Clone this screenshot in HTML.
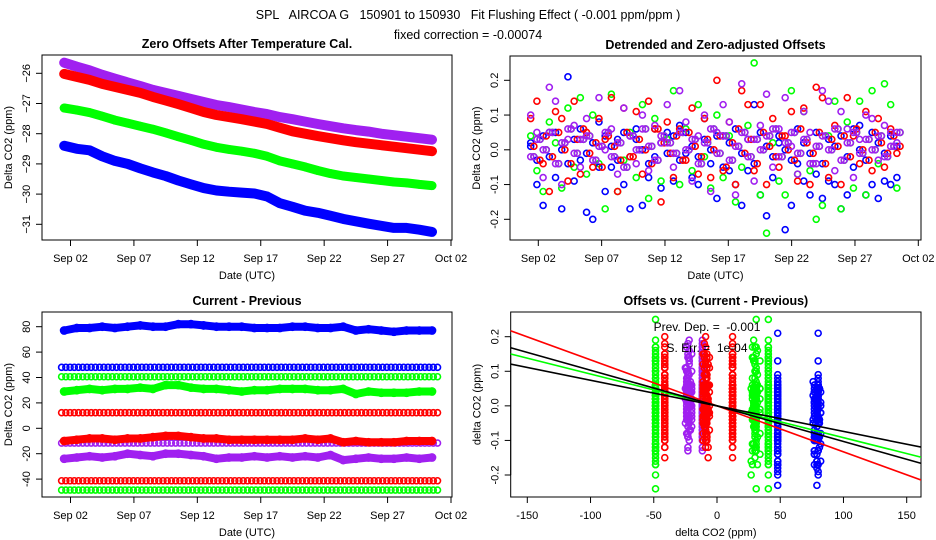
<!DOCTYPE html>
<html><head><meta charset="utf-8"><style>
html,body{margin:0;padding:0;background:#fff;}
svg{display:block;font-family:"Liberation Sans",Arial,sans-serif;}
text{white-space:pre;}
</style></head><body>
<svg id="chart" width="936" height="540" viewBox="0 0 936 540" xmlns="http://www.w3.org/2000/svg">
<rect x="0" y="0" width="936" height="540" fill="#fff"/>
<text x="468" y="19" font-size="12.5" text-anchor="middle" xml:space="preserve">SPL   AIRCOA G   150901 to 150930   Fit Flushing Effect ( -0.001 ppm/ppm )</text>
<text x="468" y="39" font-size="12.5" text-anchor="middle">fixed correction = -0.00074</text>
<g id="p1"></g>
<g id="p2"></g>
<g id="p3"></g>
<g id="p4"></g>
</svg>
<script>
// ---- data ----
const dateTicks = ["Sep 02","Sep 07","Sep 12","Sep 17","Sep 22","Sep 27","Oct 02"];
const dateTickDays = [2,7,12,17,22,27,32];
const days = [1.5,2.5,3.5,4.5,5.5,6.5,7.5,8.5,9.5,10.5,11.5,12.5,13.5,14.5,15.5,16.5,17.5,18.5,19.5,20.5,21.5,22.5,23.5,24.5,25.5,26.5,27.5,28.5,29.5,30.5];
const zeroBlue = [-28.40,-28.50,-28.55,-28.75,-28.90,-29.00,-29.15,-29.28,-29.40,-29.55,-29.68,-29.80,-29.88,-29.92,-29.95,-29.98,-30.08,-30.30,-30.42,-30.55,-30.62,-30.72,-30.82,-30.90,-30.98,-31.05,-31.12,-31.12,-31.18,-31.25];
const zeroGreen = [-27.15,-27.22,-27.30,-27.42,-27.55,-27.65,-27.75,-27.85,-27.97,-28.10,-28.22,-28.35,-28.45,-28.52,-28.58,-28.65,-28.75,-28.90,-29.00,-29.10,-29.22,-29.32,-29.40,-29.45,-29.50,-29.55,-29.60,-29.63,-29.68,-29.72];
const zeroRed = [-26.02,-26.12,-26.22,-26.35,-26.45,-26.55,-26.65,-26.78,-26.90,-27.02,-27.15,-27.28,-27.38,-27.45,-27.52,-27.60,-27.68,-27.80,-27.92,-28.00,-28.08,-28.15,-28.22,-28.28,-28.33,-28.38,-28.43,-28.48,-28.53,-28.58];
const zeroPurple = [-25.65,-25.78,-25.90,-26.05,-26.18,-26.30,-26.42,-26.55,-26.65,-26.75,-26.85,-26.95,-27.05,-27.12,-27.20,-27.28,-27.35,-27.45,-27.52,-27.60,-27.68,-27.75,-27.82,-27.88,-27.93,-28.00,-28.05,-28.10,-28.15,-28.20];
const offBlue = [0.02,-0.10,-0.16,0.05,-0.08,-0.17,0.21,-0.09,-0.03,-0.18,-0.20,0.08,-0.12,-0.05,0.03,-0.10,-0.17,0.06,-0.16,-0.08,-0.02,-0.11,0.05,-0.09,0.07,-0.01,-0.08,-0.10,0.09,-0.04,-0.14,0.04,-0.06,-0.10,-0.16,-0.06,0.13,-0.13,-0.19,-0.08,0.02,-0.23,-0.16,-0.04,-0.09,-0.13,-0.07,-0.14,-0.09,-0.10,-0.17,-0.13,-0.05,0.07,-0.13,-0.10,-0.14,-0.09,-0.10,-0.08];
const offGreen = [0.04,-0.06,-0.12,0.08,0.02,-0.11,0.12,-0.05,0.15,-0.07,0.10,-0.04,-0.17,0.16,-0.12,-0.03,0.05,-0.08,0.13,-0.14,0.09,-0.09,0.03,0.17,-0.10,0.06,-0.06,0.13,-0.02,-0.11,0.10,-0.08,0.04,-0.15,-0.05,0.07,0.25,-0.13,-0.24,0.02,-0.09,-0.13,0.17,-0.07,0.11,-0.06,-0.20,-0.16,0.04,0.14,-0.17,0.08,-0.11,0.14,-0.13,0.17,-0.04,0.19,0.13,-0.11];
const offRed = [0.09,0.14,-0.04,-0.12,0.11,0.09,-0.09,0.14,-0.07,0.05,-0.05,0.09,0.03,0.15,-0.12,0.12,-0.02,0.11,-0.07,0.14,0.06,-0.15,0.08,-0.08,0.06,-0.03,0.12,-0.07,0.09,-0.08,0.20,-0.06,0.08,-0.10,0.17,0.13,-0.06,0.13,-0.10,0.09,-0.05,0.04,0.11,-0.09,0.12,-0.10,0.18,0.15,-0.08,0.07,-0.10,0.15,0.04,-0.04,0.11,-0.06,0.09,-0.05,0.06,-0.01];
const offPurple = [0.10,0.05,-0.08,0.18,0.14,-0.10,0.03,0.07,-0.05,0.09,-0.03,0.15,0.00,0.06,-0.07,0.12,0.04,-0.04,0.10,-0.06,0.07,0.02,0.13,-0.05,0.17,0.08,-0.09,0.04,0.10,-0.12,0.05,0.13,0.08,-0.13,0.19,0.03,-0.09,0.07,0.16,-0.05,0.06,0.15,0.01,-0.07,0.11,0.05,-0.04,0.17,0.14,-0.06,0.11,0.06,-0.08,0.03,0.10,0.09,-0.03,0.07,0.05,0.02];
const offCoreA = [0.01,-0.03,0.04,-0.02,0.05,0.00,-0.04,0.03,0.06,-0.01,0.02,-0.05,0.04,0.01,-0.03,0.05,-0.02,0.03,0.00,-0.04,0.06,0.02,-0.01,0.04,-0.03,0.05,0.01,-0.02,0.03,0.00,0.04,-0.05,0.02,0.06,-0.01,0.03,-0.04,0.05,0.01,-0.02,0.04,0.00,-0.03,0.06,0.02,-0.01,0.05,-0.04,0.03,0.01,0.04,-0.02,0.06,0.00,-0.03,0.05,0.02,-0.01,0.04,0.01];
const offCoreB = [-0.02,0.03,0.00,0.05,-0.04,0.02,0.06,-0.01,0.03,0.04,-0.03,0.01,0.05,-0.02,0.02,-0.05,0.04,0.00,0.06,0.01,-0.03,0.04,0.02,-0.01,0.05,0.00,0.03,-0.04,0.02,0.06,-0.01,0.04,-0.03,0.01,0.05,-0.02,0.03,0.00,0.04,0.06,-0.02,0.02,0.05,-0.01,0.03,-0.04,0.01,0.04,0.00,0.06,-0.03,0.02,0.05,-0.01,0.03,0.00,0.04,-0.02,0.01,0.05];
const diffBlue = [77,79,79,80,79,80,81,80,80,82,82,81,80,80,80,79,79,79,80,80,79,79,80,77,78,77,76,77,77,77];
const diffGreen = [29,30,31,30,31,31,32,31,34,34,32,31,31,30,29,30,30,31,31,31,30,30,31,27,29,28,28,28,29,29];
const diffRed = [-10,-9,-8,-8,-9,-8,-8,-7,-6,-6,-7,-8,-8,-9,-9,-9,-9,-9,-9,-8,-9,-8,-11,-10,-11,-11,-11,-10,-10,-10];
const diffPurple = [-24,-23,-22,-23,-22,-20,-21,-22,-20,-20,-21,-22,-24,-23,-23,-22,-23,-22,-23,-22,-23,-21,-25,-24,-23,-24,-24,-23,-24,-23];
const constValues = [48,40.6,12.3,-11.6,-41.3,-48.6];
const constColors = ["#0000ff","#00ff00","#ff0000","#a020f0","#ff0000","#00ff00"];
const fitSlopes = [-0.00133,-0.00092,-0.00103,-0.00074];
const fitColors = ["#ff0000","#00ff00","#000000","#000000"];
const p1Ticks = [-26,-27,-28,-29,-30,-31];
const p2Ticks = [0.2,0.1,0.0,-0.1,-0.2];
const p2TickLabels = ["0.2","0.1","0.0","-0.1","-0.2"];
const p3Ticks = [80,60,40,20,0,-20,-40];
const p4XTicks = [-150,-100,-50,0,50,100,150];
const p4YTicks = [0.2,0.1,0.0,-0.1,-0.2];

const NS="http://www.w3.org/2000/svg";
const BLUE="#0000ff",GREEN="#00ff00",RED="#ff0000",PURP="#a020f0";
function mk(parent,tag,attrs){const e=document.createElementNS(NS,tag);for(const k in attrs)e.setAttribute(k,attrs[k]);parent.appendChild(e);return e;}
function lin(d0,d1,r0,r1){return v=>r0+(v-d0)*(r1-r0)/(d1-d0);}

function frame(g,L,R,T,B,title,xlab,ylab){
  const box=mk(g,'rect',{x:L,y:T,width:R-L,height:B-T,fill:'none',stroke:'#000','stroke-width':1});
  
  
  const t=mk(g,'text',{x:(L+R)/2,y:T-7,'font-size':12.5,'font-weight':'bold','text-anchor':'middle'});t.textContent=title;
  
  
  const xl=mk(g,'text',{x:(L+R)/2,y:B+39,'font-size':11,'text-anchor':'middle'});xl.textContent=xlab;
  
  
  const cy=(T+B)/2,cx=L-30;
  const yl=mk(g,'text',{x:cx,y:cy,'font-size':11,'text-anchor':'middle',transform:`rotate(-90 ${cx} ${cy})`});yl.textContent=ylab;
  
  
}
function xTicks(g,B,xs,labels,sx){
  mk(g,'line',{x1:sx(xs[0]),x2:sx(xs[xs.length-1]),y1:B,y2:B,stroke:'#000'});
  xs.forEach((v,i)=>{const x=sx(v);mk(g,'line',{x1:x,x2:x,y1:B,y2:B+6,stroke:'#000'});
    const t=mk(g,'text',{x:x,y:B+22,'font-size':11,'text-anchor':'middle'});t.textContent=labels[i];
    
    });
}
function yTicks(g,L,vs,labels,sy){
  mk(g,'line',{x1:L,x2:L,y1:sy(vs[0]),y2:sy(vs[vs.length-1]),stroke:'#000'});
  vs.forEach((v,i)=>{const y=sy(v);mk(g,'line',{x1:L-6,x2:L,y1:y,y2:y,stroke:'#000'});
    const tx=L-12;
    const t=mk(g,'text',{x:tx,y:y,'font-size':11,'text-anchor':'middle',transform:`rotate(-90 ${tx} ${y})`});t.textContent=labels[i];
    
    });
}
function band(g,xsA,ysA,sx,sy,color,w){
  let d='';xsA.forEach((x,i)=>{d+=(i?'L':'M')+sx(x).toFixed(1)+','+sy(ysA[i]).toFixed(1);});
  const p=mk(g,'path',{d:d,fill:'none',stroke:color,'stroke-width':w,'stroke-linejoin':'round','stroke-linecap':'round'});
  
  
  xsA.forEach((x,i)=>{const c=mk(g,'circle',{cx:sx(x),cy:sy(ysA[i]),r:3.6,fill:'none',stroke:color,'stroke-width':1.6});
    
    });
}
function pts(g,xsA,ysA,sx,sy,color){
  xsA.forEach((x,i)=>{const c=mk(g,'circle',{cx:sx(x),cy:sy(ysA[i]),r:3,fill:'none',stroke:color,'stroke-width':1.6});
    
    });
}

// Panel 1
(function(){const g=document.getElementById('p1');const L=42,R=452,T=55,B=240;
  const sx=lin(2,32,70.5,451),sy=lin(-26,-31,73.3,224.3);
  frame(g,L,R,T,B,'Zero Offsets After Temperature Cal.','Date (UTC)','Delta CO2 (ppm)');
  xTicks(g,B,dateTickDays,dateTicks,sx);yTicks(g,L,p1Ticks,p1Ticks.map(v=>String(v).replace('-','\u2212')),sy);
  band(g,days,zeroPurple,sx,sy,PURP,10);band(g,days,zeroRed,sx,sy,RED,10);
  band(g,days,zeroGreen,sx,sy,GREEN,9);band(g,days,zeroBlue,sx,sy,BLUE,10);
})();
// Panel 2
const halfDays=[];for(let i=0;i<60;i++)halfDays.push(1.4+i*0.49);
const halfDaysB=halfDays.map(t=>t+0.25);
(function(){const g=document.getElementById('p2');const L=510,R=921,T=56,B=240;
  const sx=lin(2,32,538.3,918.3),sy=lin(0.2,-0.2,80.3,219.3);
  frame(g,L,R,T,B,'Detrended and Zero-adjusted Offsets','Date (UTC)','Delta CO2 (ppm)');
  xTicks(g,B,dateTickDays,dateTicks,sx);yTicks(g,L,p2Ticks,p2TickLabels,sy);
  pts(g,halfDays,offBlue,sx,sy,BLUE);pts(g,halfDays,offGreen,sx,sy,GREEN);
  pts(g,halfDaysB,offCoreB,sx,sy,GREEN);pts(g,halfDays,offCoreA,sx,sy,BLUE);
  pts(g,halfDays,offRed,sx,sy,RED);pts(g,halfDaysB,offCoreA,sx,sy,RED);
  pts(g,halfDays,offPurple,sx,sy,PURP);pts(g,halfDaysB,offCoreB,sx,sy,PURP);
  pts(g,halfDays,offCoreB,sx,sy,PURP);
})();
// Panel 3
(function(){const g=document.getElementById('p3');const L=42,R=452,T=312,B=497;
  const sx=lin(2,32,70.5,451),sy=lin(80,0,326.7,428.3);
  frame(g,L,R,T,B,'Current - Previous','Date (UTC)','Delta CO2 (ppm)');
  xTicks(g,B,dateTickDays,dateTicks,sx);yTicks(g,L,p3Ticks,p3Ticks.map(String),sy);
  const ts=[];for(let i=0;i<90;i++)ts.push(1.3+i*0.333);
  constValues.forEach((v,k)=>{pts(g,ts,ts.map(()=>v),sx,sy,constColors[k]);});
  band(g,days,diffBlue,sx,sy,BLUE,8);band(g,days,diffGreen,sx,sy,GREEN,8);
  band(g,days,diffRed,sx,sy,RED,8);band(g,days,diffPurple,sx,sy,PURP,8);
})();
// Panel 4
(function(){const g=document.getElementById('p4');const L=510.7,R=921,T=312,B=497;
  const sx=lin(-150,150,527.3,906.7),sy=lin(0.2,-0.2,336.7,475);
  frame(g,L,R,T,B,'Offsets vs. (Current - Previous)','delta CO2 (ppm)','delta CO2 (ppm)');
  xTicks(g,B,p4XTicks,p4XTicks.map(String),sx);yTicks(g,L,p4YTicks,p2TickLabels,sy);
  const byColor={"#0000ff":offBlue,"#00ff00":offGreen,"#ff0000":offRed,"#a020f0":offPurple};
  constValues.forEach((v,k)=>{const ys=byColor[constColors[k]];pts(g,ys.map(()=>v),ys,sx,sy,constColors[k]);
    pts(g,offCoreA.map(()=>v),offCoreA,sx,sy,constColors[k]);});
  const idx=offBlue.map((_,i)=>Math.floor(i/2));
  pts(g,idx.map(j=>diffBlue[j]),offBlue,sx,sy,BLUE);pts(g,idx.map(j=>diffBlue[29-j]),offCoreA,sx,sy,BLUE);
  pts(g,idx.map(j=>diffGreen[j]),offGreen,sx,sy,GREEN);pts(g,idx.map(j=>diffGreen[29-j]),offCoreB,sx,sy,GREEN);
  pts(g,idx.map(j=>diffRed[j]),offRed,sx,sy,RED);pts(g,idx.map(j=>diffRed[29-j]),offCoreA,sx,sy,RED);
  pts(g,idx.map(j=>diffPurple[j]),offPurple,sx,sy,PURP);pts(g,idx.map(j=>diffPurple[29-j]),offCoreB,sx,sy,PURP);
  const cl=mk(g,'clipPath',{id:'c4'});mk(cl,'rect',{x:L,y:T,width:R-L,height:B-T});
  fitSlopes.forEach((s,k)=>{const l=mk(g,'line',{x1:sx(-170),y1:sy(-170*s),x2:sx(170),y2:sy(170*s),stroke:fitColors[k],'stroke-width':1.6,'clip-path':'url(#c4)'});
    
    });
  const a=mk(g,'text',{x:707,y:331,'font-size':12,'text-anchor':'middle'});a.textContent='Prev. Dep. =  -0.001';
  
  
  const b=mk(g,'text',{x:707,y:352,'font-size':12,'text-anchor':'middle'});b.textContent='S. Err. =  1e-04';
  
  
})();
</script>
</body></html>
